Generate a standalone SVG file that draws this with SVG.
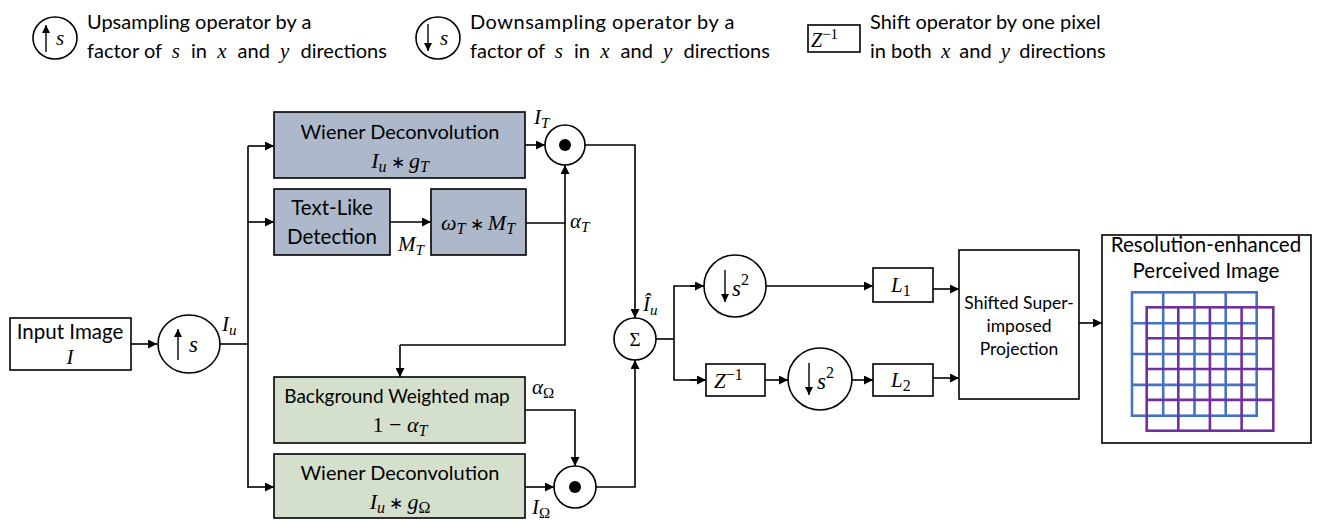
<svg xmlns="http://www.w3.org/2000/svg" width="1319" height="521" viewBox="0 0 1319 521">
  <defs>
    <style>
      .box{stroke:#000;stroke-width:1.6}
      .blue{fill:#ADB9CA}
      .green{fill:#D5E0CC}
      .white{fill:#fff}
      .t{font-family:Lato,"Liberation Sans",sans-serif;fill:#000}
      .m{font-family:"Liberation Serif",serif;font-style:italic;fill:#000}
      .n{font-family:"Liberation Serif",serif;font-style:normal}
      .op{font-family:"Liberation Serif",serif;font-style:normal;font-size:17px}
      .line{fill:none;stroke:#000;stroke-width:1.6}
      .thin{fill:none;stroke:#000;stroke-width:1.4}
      .gb{fill:none;stroke:#4472C4;stroke-width:2.6}
      .gp{fill:none;stroke:#7030A0;stroke-width:2.6}
    </style>
    <marker id="arr" viewBox="0 0 10 10" refX="10" refY="5" markerWidth="10" markerHeight="9" markerUnits="userSpaceOnUse" orient="auto">
      <path d="M0,0 L10,5 L0,10 z" fill="#000"/>
    </marker>
    <marker id="arrs" viewBox="0 0 10 10" refX="10" refY="5" markerWidth="9" markerHeight="8" markerUnits="userSpaceOnUse" orient="auto">
      <path d="M0,0 L10,5 L0,10 z" fill="#000"/>
    </marker>
  </defs>
  <rect width="1319" height="521" fill="#fff"/>

  <!-- legend -->
  <g id="legend-up">
    <ellipse cx="55" cy="38" rx="22" ry="21" class="white box"/>
    <line x1="46" y1="52" x2="46" y2="25" class="thin" marker-end="url(#arrs)"/>
    <text x="56" y="45" class="m" font-size="21">s</text>
    <text x="87" y="29" class="t" font-size="20">Upsampling operator by a</text>
    <text x="87" y="58" class="t" font-size="20">factor of <tspan class="m" font-size="21" dx="5">s</tspan><tspan dx="6"> in </tspan><tspan class="m" font-size="21" dx="5">x</tspan><tspan dx="6"> and </tspan><tspan class="m" font-size="21" dx="5">y</tspan><tspan dx="6"> directions</tspan></text>
  </g>
  <g id="legend-down">
    <ellipse cx="438" cy="38" rx="22" ry="21" class="white box"/>
    <line x1="428" y1="24" x2="428" y2="51" class="thin" marker-end="url(#arrs)"/>
    <text x="440" y="45" class="m" font-size="21">s</text>
    <text x="470" y="29" class="t" font-size="20" letter-spacing="0.5">Downsampling operator by a</text>
    <text x="470" y="58" class="t" font-size="20">factor of <tspan class="m" font-size="21" dx="5">s</tspan><tspan dx="6"> in </tspan><tspan class="m" font-size="21" dx="5">x</tspan><tspan dx="6"> and </tspan><tspan class="m" font-size="21" dx="5">y</tspan><tspan dx="6"> directions</tspan></text>
  </g>
  <g id="legend-shift">
    <rect x="808" y="25" width="52" height="27" class="white box"/>
    <text x="811" y="47" class="m" font-size="20">Z<tspan class="n" font-size="15" dy="-8">−1</tspan></text>
    <text x="870" y="29" class="t" font-size="20">Shift operator by one pixel</text>
    <text x="870" y="58" class="t" font-size="20">in both <tspan class="m" font-size="21" dx="4">x</tspan><tspan dx="4"> and </tspan><tspan class="m" font-size="21" dx="4">y</tspan><tspan dx="4"> directions</tspan></text>
  </g>

  <!-- connectors -->
  <g id="connectors">
    <line x1="131" y1="344" x2="157" y2="344" class="line" marker-end="url(#arr)"/>
    <line x1="220" y1="344" x2="248" y2="344" class="line"/>
    <line x1="248" y1="146" x2="248" y2="488" class="line"/>
    <line x1="248" y1="146" x2="274" y2="146" class="line" marker-end="url(#arr)"/>
    <line x1="248" y1="222" x2="274" y2="222" class="line" marker-end="url(#arr)"/>
    <line x1="248" y1="487" x2="274" y2="487" class="line" marker-end="url(#arr)"/>
    <line x1="390" y1="222" x2="431" y2="222" class="line" marker-end="url(#arr)"/>
    <line x1="525" y1="145" x2="545" y2="145" class="line" marker-end="url(#arr)"/>
    <line x1="526" y1="223" x2="565" y2="223" class="line"/>
    <polyline points="400,345 565,345 565,165" class="line" marker-end="url(#arr)"/>
    <line x1="400" y1="345" x2="400" y2="377" class="line" marker-end="url(#arr)"/>
    <polyline points="585,145 635,145 635,318" class="line" marker-end="url(#arr)"/>
    <polyline points="525,410 575,410 575,466" class="line" marker-end="url(#arr)"/>
    <line x1="525" y1="487" x2="554" y2="487" class="line" marker-end="url(#arr)"/>
    <polyline points="596,487 635,487 635,360" class="line" marker-end="url(#arr)"/>
    <line x1="656" y1="339" x2="674" y2="339" class="line"/>
    <polyline points="704,286 674,286 674,380 706,380" class="line"/>
    <line x1="690" y1="286" x2="704" y2="286" class="line" marker-end="url(#arr)"/>
    <line x1="690" y1="380" x2="706" y2="380" class="line" marker-end="url(#arr)"/>
    <line x1="766" y1="286" x2="873" y2="286" class="line" marker-end="url(#arr)"/>
    <line x1="765" y1="380" x2="788" y2="380" class="line" marker-end="url(#arr)"/>
    <line x1="852" y1="380" x2="873" y2="380" class="line" marker-end="url(#arr)"/>
    <line x1="933" y1="289" x2="959" y2="289" class="line" marker-end="url(#arr)"/>
    <line x1="933" y1="378" x2="959" y2="378" class="line" marker-end="url(#arr)"/>
    <line x1="1079" y1="323" x2="1102" y2="323" class="line" marker-end="url(#arr)"/>
  </g>

  <!-- connector labels -->
  <g id="labels">
    <text x="222" y="331" class="m" font-size="21">I<tspan font-size="15" dy="4">u</tspan></text>
    <text x="534" y="124" class="m" font-size="21">I<tspan font-size="15" dy="4">T</tspan></text>
    <text x="398" y="251" class="m" font-size="21">M<tspan font-size="15" dy="4">T</tspan></text>
    <text x="570" y="228" class="m" font-size="21">α<tspan font-size="15" dy="4">T</tspan></text>
    <text x="532" y="394" class="m" font-size="21">α<tspan class="n" font-size="15" dy="4">Ω</tspan></text>
    <text x="532" y="514" class="m" font-size="21">I<tspan class="n" font-size="15" dy="4">Ω</tspan></text>
    <text x="643" y="311" class="m" font-size="21">Î<tspan font-size="15" dy="4">u</tspan></text>
  </g>

  <g id="input">
    <rect x="10" y="318" width="121" height="52" class="white box"/>
    <text x="70" y="339" class="t" font-size="20.5" text-anchor="middle">Input Image</text>
    <text x="70" y="364" class="m" font-size="21" text-anchor="middle">I</text>
  </g>
  <g id="upsample">
    <ellipse cx="189" cy="344" rx="31" ry="29" class="white box"/>
    <line x1="178" y1="360" x2="178" y2="329" class="thin" marker-end="url(#arrs)"/>
    <text x="189" y="352" class="m" font-size="23">s</text>
  </g>
  <g id="wiener-text">
    <rect x="274" y="112" width="251" height="66" class="blue box"/>
    <text x="400" y="139" class="t" font-size="20" text-anchor="middle">Wiener Deconvolution</text>
    <text x="400" y="168" class="m" font-size="22" text-anchor="middle">I<tspan font-size="16" dy="4">u</tspan><tspan class="op" dy="-4"> ∗ </tspan>g<tspan font-size="16" dy="4">T</tspan></text>
  </g>
  <g id="text-detection">
    <rect x="274" y="189" width="116" height="66" class="blue box"/>
    <text x="332" y="215" class="t" font-size="20.5" text-anchor="middle">Text-Like</text>
    <text x="332" y="244" class="t" font-size="20.5" text-anchor="middle">Detection</text>
  </g>
  <g id="weight-text">
    <rect x="431" y="189" width="95" height="66" class="blue box"/>
    <text x="478" y="230" class="m" font-size="22" text-anchor="middle">ω<tspan font-size="16" dy="4">T</tspan><tspan class="op" dy="-4"> ∗ </tspan>M<tspan font-size="16" dy="4">T</tspan></text>
  </g>
  <g id="product-text">
    <circle cx="565" cy="145" r="20" class="white box"/>
    <circle cx="565" cy="145" r="6" fill="#000"/>
  </g>
  <g id="background-map">
    <rect x="274" y="377" width="251" height="66" class="green box"/>
    <text x="397" y="403" class="t" font-size="19" text-anchor="middle">Background Weighted map</text>
    <text x="400" y="432" class="n" font-size="22" text-anchor="middle" fill="#000">1 − <tspan class="m">α</tspan><tspan class="m" font-size="16" dy="4">T</tspan></text>
  </g>
  <g id="wiener-background">
    <rect x="274" y="454" width="251" height="64" class="green box"/>
    <text x="400" y="480" class="t" font-size="20" text-anchor="middle">Wiener Deconvolution</text>
    <text x="400" y="509" class="m" font-size="22" text-anchor="middle">I<tspan font-size="16" dy="4">u</tspan><tspan class="op" dy="-4"> ∗ </tspan>g<tspan class="n" font-size="16" dy="4">Ω</tspan></text>
  </g>
  <g id="product-background">
    <circle cx="575" cy="487" r="21" class="white box"/>
    <circle cx="575" cy="487" r="6" fill="#000"/>
  </g>
  <g id="sum">
    <circle cx="635" cy="339" r="21" class="white box"/>
    <text x="635" y="346" class="n" font-size="19" text-anchor="middle" fill="#000">Σ</text>
  </g>
  <g id="down-1">
    <ellipse cx="735" cy="286" rx="31" ry="31" class="white box"/>
    <line x1="725" y1="270" x2="725" y2="302" class="thin" marker-end="url(#arrs)"/>
    <text x="732" y="296" class="m" font-size="23">s<tspan class="n" font-size="16" dy="-11">2</tspan></text>
  </g>
  <g id="shift">
    <rect x="706" y="364" width="59" height="32" class="white box"/>
    <text x="714" y="388" class="m" font-size="21">Z<tspan class="n" font-size="16" dy="-8">−1</tspan></text>
  </g>
  <g id="down-2">
    <ellipse cx="820" cy="379" rx="32" ry="31" class="white box"/>
    <line x1="809" y1="363" x2="809" y2="395" class="thin" marker-end="url(#arrs)"/>
    <text x="817" y="389" class="m" font-size="23">s<tspan class="n" font-size="16" dy="-11">2</tspan></text>
  </g>
  <g id="l1">
    <rect x="873" y="268" width="60" height="34" class="white box"/>
    <text x="891" y="292" class="m" font-size="21">L<tspan class="n" font-size="16" dy="4">1</tspan></text>
  </g>
  <g id="l2">
    <rect x="873" y="364" width="60" height="32" class="white box"/>
    <text x="891" y="387" class="m" font-size="21">L<tspan class="n" font-size="16" dy="4">2</tspan></text>
  </g>
  <g id="projection">
    <rect x="959" y="250" width="120" height="149" class="white box"/>
    <text x="1019" y="309" class="t" font-size="17.5" text-anchor="middle">Shifted Super-</text>
    <text x="1019" y="332" class="t" font-size="17.5" text-anchor="middle">imposed</text>
    <text x="1019" y="355" class="t" font-size="17.5" text-anchor="middle">Projection</text>
  </g>
  <g id="output">
    <rect x="1102" y="235" width="209" height="208" class="white box"/>
    <text x="1206" y="252" class="t" font-size="20.5" text-anchor="middle">Resolution-enhanced</text>
    <text x="1206" y="278" class="t" font-size="20.5" text-anchor="middle">Perceived Image</text>
    <g class="gb">
      <rect x="1132" y="292.3" width="124.7" height="123.4"/>
      <path d="M1163.2,292.3V415.7M1194.5,292.3V415.7M1225.7,292.3V415.7M1132,323.2H1256.7M1132,354H1256.7M1132,384.9H1256.7"/>
    </g>
    <g class="gp">
      <rect x="1146.7" y="307.3" width="126.6" height="123.4"/>
      <path d="M1178.3,307.3V430.7M1209.9,307.3V430.7M1241.6,307.3V430.7M1146.7,338.2H1273.3M1146.7,369H1273.3M1146.7,399.9H1273.3"/>
    </g>
  </g>
</svg>
